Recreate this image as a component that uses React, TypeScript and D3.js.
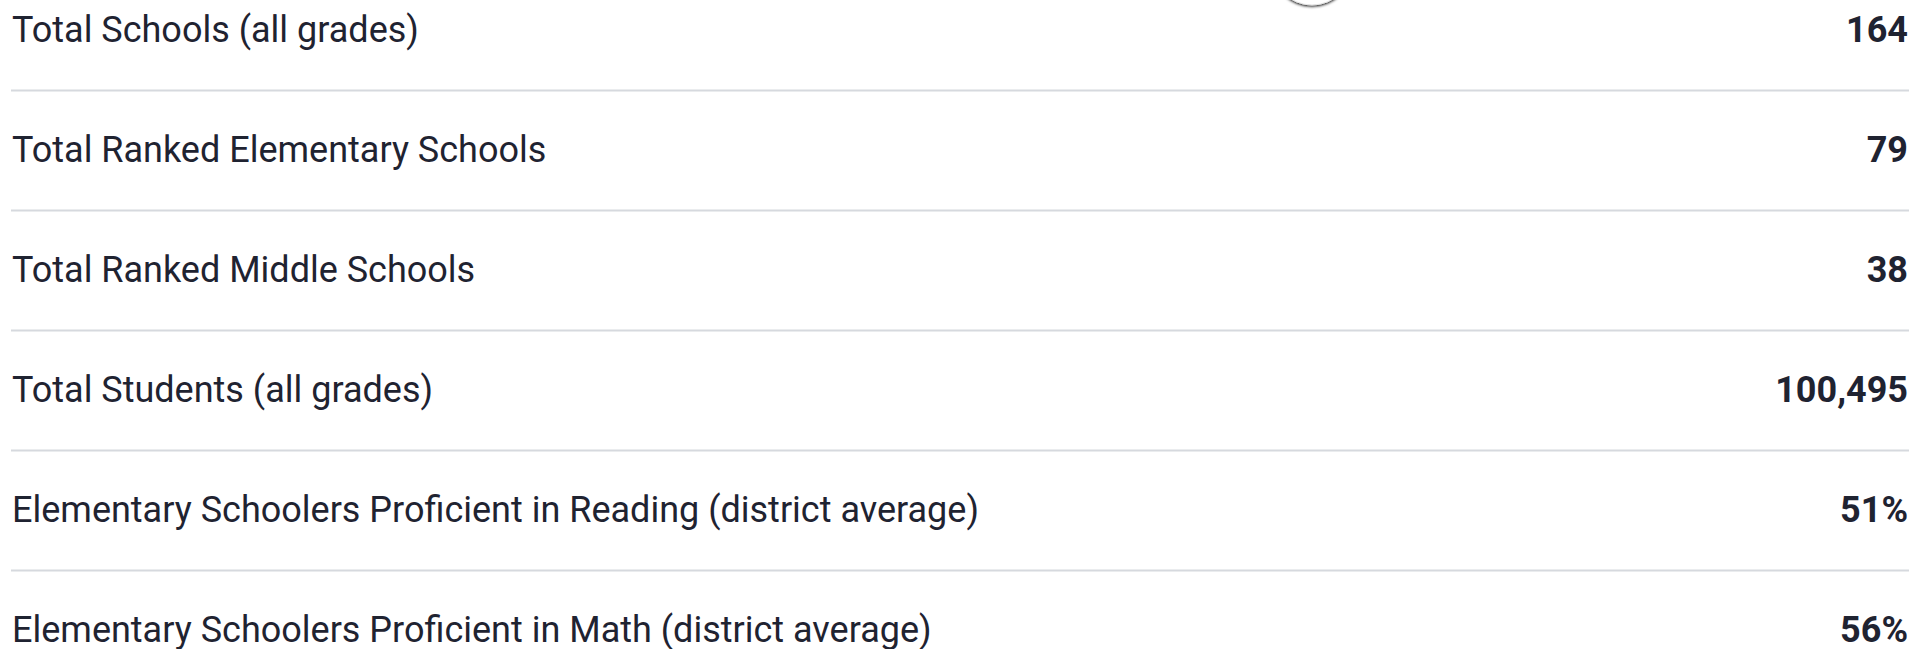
import React, { useEffect, useRef } from 'react';
import * as d3 from 'd3';

const labels = [
  'Total Schools (all grades)',
  'Total Ranked Elementary Schools',
  'Total Ranked Middle Schools',
  'Total Students (all grades)',
  'Elementary Schoolers Proficient in Reading (district average)',
  'Elementary Schoolers Proficient in Math (district average)',
];

const values = ['164', '79', '38', '100,495', '51%', '56%'];

const App: React.FC = () => {
  const svgRef = useRef<SVGSVGElement>(null);
  const width = 1915;
  const height = 649;

  useEffect(() => {
    if (!svgRef.current) return;
    const svg = d3.select(svgRef.current);
    svg.selectAll('*').remove();

    const left = 11;
    const right = 1909;

    // one band per row, 120px pitch, first row partly above the top edge
    const y = d3.scaleBand<number>()
      .domain(d3.range(labels.length))
      .range([-29.5, -29.5 + 120 * labels.length])
      .padding(0);

    const defs = svg.append('defs');
    const filter = defs.append('filter').attr('id', 'shadow')
      .attr('x', '-50%').attr('y', '-50%').attr('width', '200%').attr('height', '200%');
    filter.append('feGaussianBlur').attr('in', 'SourceAlpha').attr('stdDeviation', 1.5).attr('result', 'blur');
    filter.append('feOffset').attr('dy', 1).attr('result', 'off');
    const fm = filter.append('feMerge');
    fm.append('feMergeNode').attr('in', 'off');
    fm.append('feMergeNode').attr('in', 'SourceGraphic');

    const rows = svg.selectAll('.row')
      .data(labels.map((l, i) => ({ label: l, value: values[i], i })))
      .enter()
      .append('g')
      .attr('class', 'row')
      .attr('transform', d => `translate(0,${y(d.i)})`);

    rows.filter(d => d.i < labels.length - 1)
      .append('line')
      .attr('x1', left)
      .attr('x2', right)
      .attr('y1', y.bandwidth())
      .attr('y2', y.bandwidth())
      .attr('stroke', '#d6d9de')
      .attr('stroke-width', 2);

    rows.append('text')
      .attr('x', 12)
      .attr('y', 71.5)
      .attr('font-family', 'Roboto, sans-serif')
      .attr('font-size', '36px')
      .attr('fill', '#1f2331')
      .text(d => d.label);

    rows.append('text')
      .attr('x', 1908)
      .attr('y', 71.5)
      .attr('text-anchor', 'end')
      .attr('font-family', 'Roboto, sans-serif')
      .attr('font-weight', 700)
      .attr('font-size', '36px')
      .attr('fill', '#1f2331')
      .text(d => d.value);

    // partially hidden round button at top edge
    svg.append('circle')
      .attr('cx', 1312)
      .attr('cy', -35)
      .attr('r', 40)
      .attr('fill', '#ffffff')
      .attr('stroke', '#e6e6e6')
      .attr('stroke-width', 1)
      .attr('filter', 'url(#shadow)');
  }, []);

  return (
    <div style={{ position: 'absolute', left: 0, top: 0, width, height, background: '#fff' }}>
      <svg ref={svgRef} width={width} height={height} style={{ display: 'block' }}></svg>
    </div>
  );
};

export default App;
